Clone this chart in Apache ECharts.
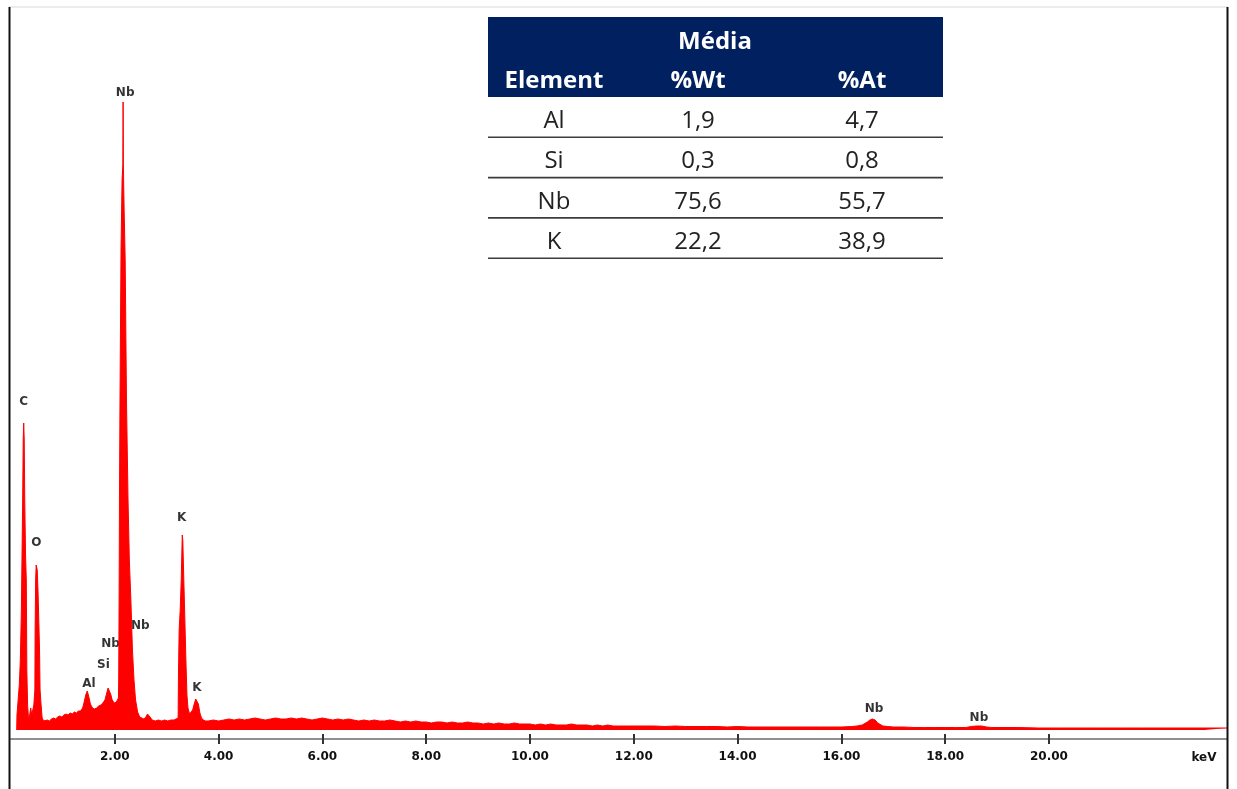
<!DOCTYPE html>
<html>
<head>
<meta charset="utf-8">
<script src="https://cdn.jsdelivr.net/npm/echarts@6/dist/echarts.min.js"></script>
<style>
  html, body { margin: 0; padding: 0; background: #ffffff; }
  #chart { width: 1237px; height: 789px; }
</style>
</head>
<body>
<div id="chart"></div>
<script>
// EDS spectrum: [energy keV, counts]
const spectrum = [
  [0.11,0],[0.115,15],[0.13,17],[0.145,14],[0.16,45],[0.18,70],[0.20,120],[0.21,165],[0.225,230],[0.235,290],
  [0.245,307],[0.255,290],[0.265,230],[0.28,175],[0.295,150],[0.305,60],[0.32,25],[0.34,10],[0.36,15],[0.38,22],
  [0.40,15],[0.44,25],[0.46,40],[0.465,100],[0.475,150],[0.485,165],[0.495,167],[0.505,160],[0.52,140],[0.535,110],
  [0.55,80],[0.56,40],[0.58,25],[0.60,12],[0.63,9],[0.66,8],[0.70,10],[0.74,9],[0.78,11],[0.82,12],
  [0.86,11],[0.90,13],[0.94,14],[0.98,13],[1.02,15],[1.06,16],[1.10,15],[1.14,17],[1.18,16],[1.22,18],
  [1.26,17],[1.30,19],[1.34,19],[1.38,22],[1.41,28],[1.44,35],[1.47,39],[1.50,33],[1.53,26],[1.57,22],
  [1.61,21],[1.65,22],[1.69,24],[1.73,25],[1.77,27],[1.81,30],[1.84,36],[1.87,42],[1.89,43],[1.92,36],
  [1.95,30],[1.99,27],[2.03,28],[2.06,30],[2.07,32],[2.075,50],[2.083,130],[2.09,230],[2.10,330],[2.12,480],
  [2.14,550],[2.155,565],[2.16,628],[2.165,565],[2.18,520],[2.20,470],[2.225,330],[2.255,230],[2.28,170],[2.31,130],
  [2.34,80],[2.37,50],[2.40,30],[2.44,18],[2.48,13],[2.52,12],[2.56,11],[2.60,13],[2.63,16],[2.65,16],
  [2.68,13],[2.72,10],[2.78,9],[2.84,10],[2.90,9],[2.96,10],[3.02,9],[3.08,10],[3.14,10],[3.18,11],
  [3.22,12],[3.228,60],[3.24,100],[3.26,120],[3.28,150],[3.30,195],[3.31,190],[3.33,150],[3.35,110],[3.37,70],
  [3.39,35],[3.41,22],[3.44,16],[3.47,16],[3.50,20],[3.53,26],[3.56,31],[3.58,32],[3.61,26],[3.64,17],
  [3.67,12],[3.71,10],[3.75,9],[3.80,9],[3.90,10],[4.00,9],[4.10,10],[4.20,11],[4.30,10],[4.40,11],[4.50,10],
  [4.60,11],[4.70,12],[4.80,11],[4.90,10],[5.00,11],[5.10,12],[5.20,11],[5.30,11],[5.40,12],[5.50,11],
  [5.60,12],[5.70,11],[5.80,10],[5.90,11],[6.00,12],[6.10,11],[6.20,10],[6.30,11],[6.40,10],[6.50,11],
  [6.60,10],[6.70,9],[6.80,10],[6.90,9],[7.00,10],[7.10,9],[7.20,9],[7.30,10],[7.40,9],[7.50,8],
  [7.60,9],[7.70,8],[7.80,9],[7.90,8],[8.00,8],[8.10,7],[8.20,8],[8.30,8],[8.40,7],[8.50,8],
  [8.60,7],[8.70,7],[8.80,8],[8.90,7],[9.00,7],[9.10,6],[9.20,7],[9.30,6],[9.40,7],[9.50,6],
  [9.60,6],[9.70,7],[9.80,6],[9.90,6],[10.00,6],[10.10,5],[10.20,6],[10.30,5],[10.40,6],[10.50,5],
  [10.60,5],[10.70,5],[10.80,6],[10.90,5],[11.00,5],[11.10,5],[11.20,4],[11.30,5],[11.40,4],[11.50,5],
  [11.60,4],[11.70,4],[11.80,4],[11.90,4],[12.00,4],[12.20,4],[12.40,4],[12.60,3.5],[12.80,4],[13.00,3.5],
  [13.20,3.5],[13.40,3.5],[13.60,3.5],[13.80,3],[14.00,3.5],[14.20,3],[14.40,3],[14.60,3],[14.80,3],[15.00,3],
  [15.20,3],[15.40,3],[15.60,3],[15.80,3],[16.00,3],[16.20,3.5],[16.30,4],[16.40,5],[16.50,8],[16.55,10],
  [16.60,11],[16.65,10],[16.70,7],[16.80,4],[16.90,3.5],[17.00,3],[17.20,3],[17.40,2.5],[17.60,2.5],[17.80,2.5],
  [18.00,2.5],[18.20,2.5],[18.40,2.5],[18.50,3.5],[18.60,4],[18.70,4],[18.80,3],[18.90,2.5],[19.00,2.5],[19.40,2.5],
  [19.80,2],[20.20,2],[20.60,2],[21.00,2],[21.40,2],[21.80,2],[22.20,2],[22.60,2],[23.00,2],[23.43,2]
];

// Peak identification labels: element, energy (keV), label height (counts)
const peakNames  = ['C', 'O', 'Al', 'Si', 'Nb', 'Nb', 'Nb', 'K', 'K', 'Nb', 'Nb'];
const peakEnergy = [0.243, 0.49, 1.50, 1.78, 1.92, 2.20, 2.49, 3.29, 3.58, 16.63, 18.65];
const peakHeight = [328, 187, 46, 65, 86, 637, 104, 212, 42, 21, 12];

// Energy axis ticks (keV)
const tickValues = [2, 4, 6, 8, 10, 12, 14, 16, 18, 20];
const energyMax = 23.43;

// Quantification table
const tableTitle   = 'Média';
const tableColumns = ['Element', '%Wt', '%At'];
const tableElements = ['Al', 'Si', 'Nb', 'K'];
const tableWt = [1.9, 0.3, 75.6, 22.2];
const tableAt = [4.7, 0.8, 55.7, 38.9];

const fmtComma = v => v.toFixed(1).replace('.', ',');

const chart = echarts.init(document.getElementById('chart'), null, { renderer: 'canvas' });

// Table drawn as graphic elements
const tLeft = 488, tRight = 943, tTop = 17, tHeadBottom = 97, rowH = 40.3;
const colX = [554, 698, 862];
const tableGraphics = [];
tableGraphics.push({
  type: 'rect', z: 10,
  shape: { x: tLeft, y: tTop, width: tRight - tLeft, height: tHeadBottom - tTop },
  style: { fill: '#002060' }
});
function textEl(str, x, y, font, color) {
  return {
    type: 'text', z: 11,
    style: {
      text: str, x: x, y: y, font: font, fill: color,
      align: 'center', verticalAlign: 'middle',
      textAlign: 'center', textVerticalAlign: 'middle'
    }
  };
}
tableGraphics.push(textEl(tableTitle, 715, 42, 'bold 24px "Open Sans"', '#ffffff'));
tableColumns.forEach((c, i) => {
  tableGraphics.push(textEl(c, colX[i], 81, 'bold 24px "Open Sans"', '#ffffff'));
});
tableElements.forEach((el, r) => {
  const cy = tHeadBottom + rowH * r + rowH / 2 + 4;
  tableGraphics.push(textEl(el, colX[0], cy, '24px "Open Sans"', '#222222'));
  tableGraphics.push(textEl(fmtComma(tableWt[r]), colX[1], cy, '24px "Open Sans"', '#222222'));
  tableGraphics.push(textEl(fmtComma(tableAt[r]), colX[2], cy, '24px "Open Sans"', '#222222'));
  const ly = tHeadBottom + rowH * (r + 1);
  tableGraphics.push({
    type: 'line', z: 11,
    shape: { x1: tLeft, y1: ly, x2: tRight, y2: ly },
    style: { stroke: '#3c3c3c', lineWidth: 1.6 }
  });
});

// Image frame
const frameGraphics = [
  { type: 'line', z: 20, shape: { x1: 9, y1: 7, x2: 1228, y2: 7 }, style: { stroke: '#e6e6e6', lineWidth: 1.5 } },
  { type: 'line', z: 20, shape: { x1: 9.5, y1: 7, x2: 9.5, y2: 789 }, style: { stroke: '#111111', lineWidth: 2 } },
  { type: 'line', z: 20, shape: { x1: 1227.5, y1: 7, x2: 1227.5, y2: 789 }, style: { stroke: '#111111', lineWidth: 2 } },
  textEl('keV', 1204, 758, 'bold 12px "DejaVu Sans"', '#111111')
];

const labelFont = { fontFamily: 'DejaVu Sans', fontWeight: 'bold', fontSize: 12, color: '#000000' };

const option = {
  animation: false,
  backgroundColor: '#ffffff',
  grid: { left: 11, right: 10, top: 7, bottom: 50, containLabel: false },
  xAxis: [
    {
      type: 'value', min: 0, max: energyMax, interval: 2,
      axisLine: { onZero: false, lineStyle: { color: '#8f8f8f', width: 2 } },
      axisTick: { show: true, length: 5, customValues: tickValues, lineStyle: { color: '#333333', width: 2 } },
      axisLabel: {
        customValues: tickValues,
        formatter: v => (v < 1 || v > 21) ? '' : v.toFixed(2),
        margin: 12, color: '#111111',
        fontFamily: 'DejaVu Sans', fontWeight: 'bold', fontSize: 12
      },
      splitLine: { show: false }
    },
    {
      type: 'value', min: 0, max: energyMax, interval: 2, position: 'bottom',
      axisLine: { show: false, onZero: false },
      axisTick: { show: true, inside: true, length: 5, customValues: tickValues, lineStyle: { color: '#333333', width: 2 } },
      axisLabel: { show: false },
      splitLine: { show: false }
    }
  ],
  yAxis: { type: 'value', min: -9, max: 723, show: false },
  series: [
    {
      type: 'line', xAxisIndex: 0, data: spectrum, symbol: 'none', silent: true,
      lineStyle: { color: '#ff0000', width: 1 },
      areaStyle: { color: '#ff0000', opacity: 1 }
    },
    {
      type: 'scatter', xAxisIndex: 0, silent: true, symbolSize: 1,
      itemStyle: { color: 'rgba(0,0,0,0)' },
      data: peakNames.map((n, i) => ({ name: n, value: [peakEnergy[i], peakHeight[i]] })),
      label: Object.assign({ show: true, position: 'inside', formatter: p => p.name }, labelFont)
    }
  ],
  graphic: tableGraphics.concat(frameGraphics)
};

chart.setOption(option);
</script>
</body>
</html>
